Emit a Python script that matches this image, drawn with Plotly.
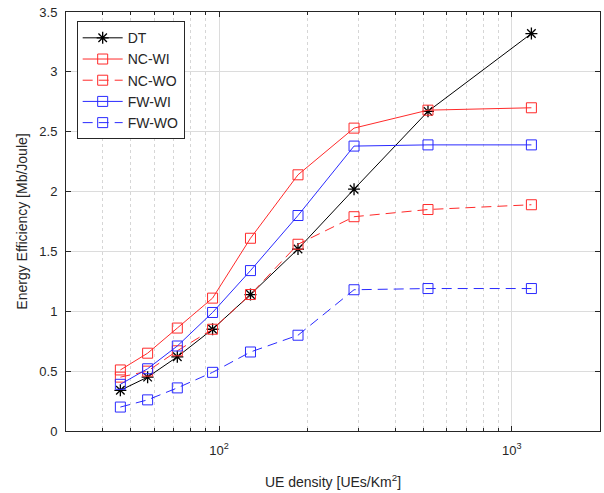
import plotly.graph_objects as go

ue_density = [46, 57, 72, 95, 128, 186, 289, 517, 1166]
dt = [0.34, 0.45, 0.62, 0.85, 1.14, 1.52, 2.02, 2.67, 3.32]
nc_wi = [0.51, 0.65, 0.86, 1.11, 1.61, 2.14, 2.53, 2.68, 2.70]
nc_wo = [0.45, 0.50, 0.67, 0.85, 1.14, 1.56, 1.79, 1.85, 1.89]
fw_wi = [0.39, 0.52, 0.71, 0.99, 1.34, 1.80, 2.38, 2.39, 2.39]
fw_wo = [0.20, 0.26, 0.36, 0.49, 0.66, 0.80, 1.18, 1.19, 1.19]

series = [
    ("DT", dt, "black", "solid", "asterisk-open"),
    ("NC-WI", nc_wi, "#ff2a2a", "solid", "square-open"),
    ("NC-WO", nc_wo, "#ff2a2a", "10px,6px", "square-open"),
    ("FW-WI", fw_wi, "#2a2aff", "solid", "square-open"),
    ("FW-WO", fw_wo, "#2a2aff", "10px,6px", "square-open"),
]

fig = go.Figure()
for name, vals, color, dash, sym in series:
    fig.add_trace(go.Scatter(
        x=ue_density, y=vals, name=name, mode="lines+markers",
        line=dict(color=color, width=1, dash=dash),
        marker=dict(symbol=sym, size=10, color=color,
                    line=dict(color=color, width=1.3 if sym.startswith("asterisk") else 1)),
    ))

minor_vals = [30, 40, 50, 60, 70, 80, 90, 200, 300, 400, 500, 600, 700, 800, 900, 2000]

fig.update_layout(
    width=604, height=493,
    margin=dict(l=66, r=4, t=12, b=62),
    paper_bgcolor="white", plot_bgcolor="white",
    font=dict(family="Liberation Sans, Arial, sans-serif", size=13, color="#262626"),
    showlegend=True,
    legend=dict(x=0.02, y=0.978, xanchor="left", yanchor="top",
                bordercolor="#262626", borderwidth=1, bgcolor="white",
                font=dict(size=14, color="#262626"),
                itemwidth=40, tracegroupgap=0),
    xaxis=dict(
        type="log", range=[1.4771, 3.3010], automargin=False,
        tickvals=[100, 1000], ticktext=["10<sup>2</sup>", "10<sup>3</sup>"],
        ticks="inside", ticklen=5, tickcolor="#262626", ticklabelstandoff=7,
        showgrid=True, gridcolor="#dcdcdc", gridwidth=1,
        minor=dict(tickvals=minor_vals, ticks="inside", ticklen=3,
                   tickcolor="#262626", showgrid=True,
                   gridcolor="#d6d6d6", griddash="dot", gridwidth=1),
        showline=True, linecolor="#262626", linewidth=1, mirror="ticks",
        zeroline=False,
        title=dict(text="UE density [UEs/Km<sup>2</sup>]", font=dict(size=14), standoff=20),
    ),
    yaxis=dict(
        range=[0, 3.5], automargin=False,
        tickvals=[0, 0.5, 1, 1.5, 2, 2.5, 3, 3.5],
        ticktext=["0", "0.5", "1", "1.5", "2", "2.5", "3", "3.5"],
        ticks="inside", ticklen=5, tickcolor="#262626", ticklabelstandoff=5,
        showgrid=True, gridcolor="#dcdcdc", gridwidth=1,
        showline=True, linecolor="#262626", linewidth=1, mirror="ticks",
        zeroline=False,
        title=dict(text="Energy Efficiency [Mb/Joule]", font=dict(size=14), standoff=8),
    ),
)

fig.write_html("out.html", config={"displayModeBar": False},
               post_script="document.body.style.margin='0px';document.body.style.overflow='hidden';")
